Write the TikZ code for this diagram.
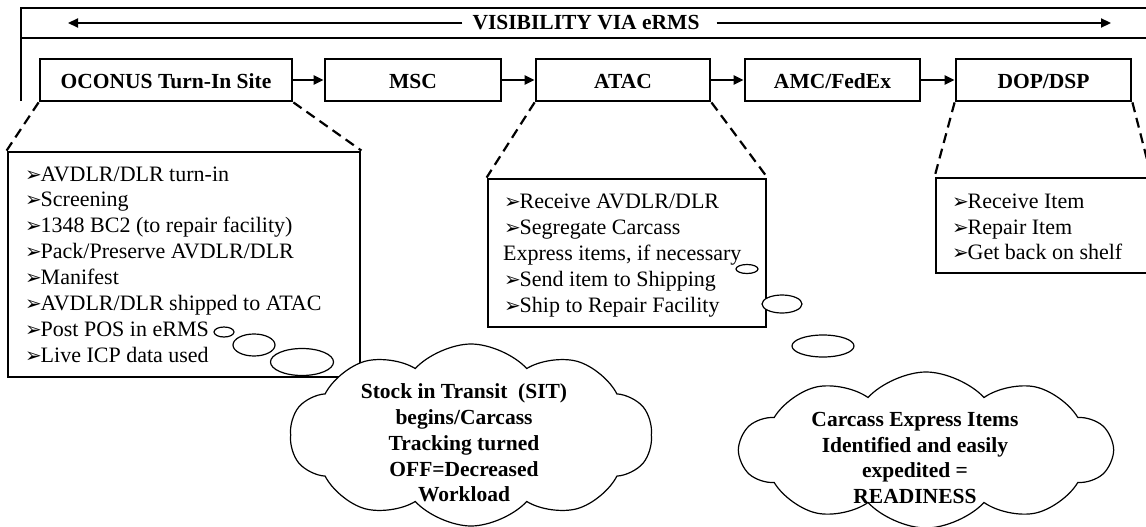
\documentclass[tikz,border=0pt]{standalone}
\usepackage{fontspec}
\setmainfont{Liberation Serif}
\newfontfamily\dvfont{DejaVu Sans}
\usetikzlibrary{arrows.meta,shapes.symbols,shapes.geometric}
\newcommand\arrglyph{\makebox[15.5pt][l]{\dvfont\fontsize{20}{20}\selectfont ➢}}
\begin{document}
\begin{tikzpicture}[x=1pt,y=-1pt,
  stage/.style={draw, line width=2.8pt, minimum height=42pt, inner sep=0pt,
    font=\bfseries\fontsize{21.5}{26}\selectfont, text height=17pt, text depth=0pt},
  detail/.style={draw, fill=white, line width=2.8pt, inner sep=0pt},
  conn/.style={line width=2.2pt, -{Triangle[length=10pt,width=9pt]}},
  frame/.style={line width=2.8pt},
  zoomline/.style={line width=2.2pt, dash pattern=on 10pt off 6pt},
  item/.style={anchor=base west, inner sep=0pt, font=\fontsize{22}{26}\selectfont},
  bubble/.style={draw, fill=white, ellipse, line width=1.2pt, inner sep=0pt},
  thought/.style={draw, fill=white, cloud, cloud puffs=10, cloud puff arc=95,
    line width=1.2pt, inner sep=0pt},
  cloudtext/.style={align=center, font=\bfseries\fontsize{21.5}{25.8}\selectfont, inner sep=0pt}
]
\useasboundingbox (0,0) rectangle (1146,527);
\fill[white] (0,0) rectangle (1146,527);
\clip (0,0) rectangle (1146,527);

% top visibility band
\draw[frame] (21,101) -- (21,8) -- (1150,8);
\draw[frame] (21,38) -- (1150,38);
\node[inner xsep=10pt, inner ysep=0pt, font=\bfseries\fontsize{21.5}{26}\selectfont] (vis) at (586,23) {VISIBILITY VIA eRMS};
\coordinate (la) at (68,23);
\coordinate (ra) at (1111,23);
\draw[conn] (vis.west) -- (la);
\draw[conn] ([xshift=7pt]vis.east) -- (ra);

% stages
\node[stage, minimum width=252pt] (oconus) at (166,80) {OCONUS Turn-In Site};
\node[stage, minimum width=176pt] (msc) at (413,80) {MSC};
\node[stage, minimum width=174pt] (atac) at (623,80) {ATAC};
\node[stage, minimum width=175pt] (amc) at (832.5,80) {AMC/FedEx};
\node[stage, minimum width=175pt] (dop) at (1043.5,80) {DOP/DSP};
\draw[conn] (oconus.east) -- (msc.west);
\draw[conn] (msc.east) -- (atac.west);
\draw[conn] (atac.east) -- (amc.west);
\draw[conn] (amc.east) -- (dop.west);

% detail boxes
\node[detail, minimum width=352pt, minimum height=225pt] (d1) at (184,264.5) {};
\node[detail, minimum width=278pt, minimum height=148pt] (d2) at (627,253) {};
\node[detail, minimum width=214pt, minimum height=95pt] (d3) at (1043,225.5) {};

\draw[zoomline] (oconus.south west) -- (d1.north west);
\draw[zoomline] (oconus.south east) -- (d1.north east);
\draw[zoomline] (atac.south west) -- (d2.north west);
\draw[zoomline] (atac.south east) -- (d2.north east);
\draw[zoomline] (dop.south west) -- (d3.north west);
\draw[zoomline] (dop.south east) -- (d3.north east);

% box 1 items
\node[item] (a1) at (25,181) {\arrglyph AVDLR/DLR turn-in};
\node[item] (a2) at (25,206.9) {\arrglyph Screening};
\node[item] (a3) at (25,232.8) {\arrglyph 1348 BC2 (to repair facility)};
\node[item] (a4) at (25,258.7) {\arrglyph Pack/Preserve AVDLR/DLR};
\node[item] (a5) at (25,284.6) {\arrglyph Manifest};
\node[item] (a6) at (25,310.5) {\arrglyph AVDLR/DLR shipped to ATAC};
\node[item] (a7) at (25,336.4) {\arrglyph Post POS in eRMS};
\node[item] (a8) at (25,362.3) {\arrglyph Live ICP data used};

% box 2 items
\node[item] (b1) at (504,208) {\arrglyph Receive AVDLR/DLR};
\node[item] (b2) at (504,234) {\arrglyph Segregate Carcass};
\node[item] (b3) at (503,260) {Express items, if necessary};
\node[item] (b4) at (504,286) {\arrglyph Send item to Shipping};
\node[item] (b5) at (504,312) {\arrglyph Ship to Repair Facility};

% box 3 items
\node[item] (c1i) at (952,208) {\arrglyph Receive Item};
\node[item] (c2i) at (952,234) {\arrglyph Repair Item};
\node[item] (c3i) at (952,259) {\arrglyph Get back on shelf};

% thought bubbles
\node[bubble, minimum width=20pt, minimum height=10pt] (p11) at (224,332) {};
\node[bubble, minimum width=42pt, minimum height=22pt] (p12) at (254,345) {};
\node[bubble, minimum width=63pt, minimum height=27pt] (p13) at (302,362) {};
\node[bubble, minimum width=22pt, minimum height=9pt] (p21) at (747,269) {};
\node[bubble, minimum width=40pt, minimum height=18pt] (p22) at (782,304) {};
\node[bubble, minimum width=62pt, minimum height=22pt] (p23) at (823,346) {};

% clouds
\node[thought, minimum width=362pt, minimum height=182pt] (cl1) at (471,435) {};
\node[thought, minimum width=372pt, minimum height=156pt] (cl2) at (926,450) {};
\node[cloudtext] (t1) at (464,443) {Stock in Transit\ \ (SIT)\\begins/Carcass\\Tracking turned\\OFF=Decreased\\Workload};
\node[cloudtext] (t2) at (915,458) {Carcass Express Items\\Identified and easily\\expedited =\\READINESS};
\end{tikzpicture}
\end{document}
